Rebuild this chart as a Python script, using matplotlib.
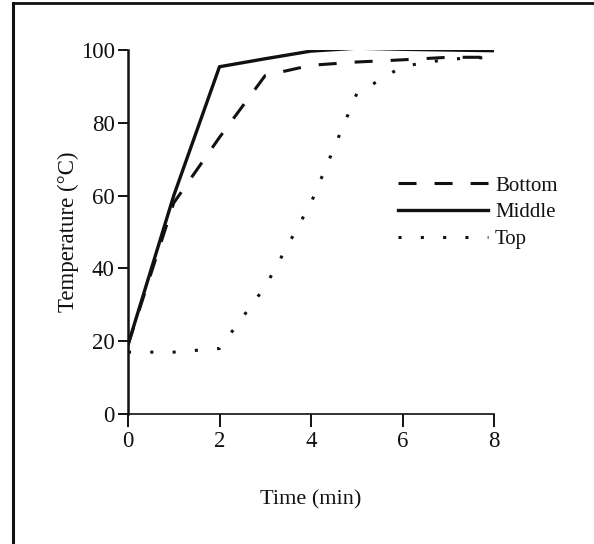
import matplotlib
matplotlib.use("Agg")
import matplotlib.pyplot as plt
from matplotlib.lines import Line2D

# ---- data ----
time_min = [0, 1, 2, 3, 4, 5, 6, 7, 8]
bottom = [19, 58, 76, 93, 95.8, 96.7, 97.3, 98, 98]
middle = [19, 60, 95.4, 97.6, 99.7, 100.5, 100.2, 100, 99.8]
top = [17, 17, 18, 35, 58, 88, 95.5, 97.5, 98]
series_labels = ["Bottom", "Middle", "Top"]
x_ticks = [0, 2, 4, 6, 8]
y_ticks = [0, 20, 40, 60, 80, 100]

plt.rcParams['font.family'] = ['Liberation Serif', 'DejaVu Serif']

W, H = 594, 544
fig = plt.figure(figsize=(W / 100, H / 100), dpi=100)
ax = fig.add_axes([128 / W, 1 - 414 / H, (494 - 128) / W, (414 - 50) / H])

ink = '#111111'
ax.plot(time_min, bottom, color=ink, lw=2.2, linestyle=(0, (5.9, 5.9)),
        label=series_labels[0], solid_capstyle='butt')
ax.plot(time_min, middle, color=ink, lw=2.4, linestyle='-',
        label=series_labels[1])
ax.plot(time_min, top, color=ink, lw=2.2, linestyle=(0, (1, 6.3)),
        label=series_labels[2])

ax.set_xlim(0, 8)
ax.set_ylim(0, 100)
ax.set_xticks(x_ticks)
ax.set_yticks(y_ticks)
ax.set_xticklabels([str(v) for v in x_ticks])
ax.set_yticklabels([str(v) for v in y_ticks])

for s in ['top', 'right']:
    ax.spines[s].set_visible(False)
ax.spines['left'].set_linewidth(1.8)
ax.spines['bottom'].set_linewidth(1.2)
ax.spines['left'].set_color(ink)
ax.spines['bottom'].set_color(ink)

ax.tick_params(axis='x', direction='out', length=9, width=1.4, pad=3,
               labelsize=16.5, colors=ink)
ax.tick_params(axis='y', direction='out', length=7.5, width=1.4, pad=2,
               labelsize=16.5, colors=ink)

ax.set_xlabel("Time (min)", fontsize=16, labelpad=28, color=ink)
ax.set_ylabel("Temperature (°C)", fontsize=16.5, labelpad=1, color=ink)

leg = ax.legend(loc='upper left', bbox_to_anchor=((398 - 128) / 366, (414 - 176) / 364),
                frameon=False, fontsize=15, handlelength=4.3, handletextpad=0.35,
                labelspacing=0.35, borderpad=0, borderaxespad=0)
for t in leg.get_texts():
    t.set_color(ink)

# scanned page frame (left and top border)
fig.add_artist(Line2D([13 / W, 13 / W], [0, 1 - 3 / H], transform=fig.transFigure,
                      color=ink, lw=2.2))
fig.add_artist(Line2D([13 / W, 1], [1 - 3 / H, 1 - 3 / H], transform=fig.transFigure,
                      color=ink, lw=2.0))

fig.savefig("out.png", dpi=100)
